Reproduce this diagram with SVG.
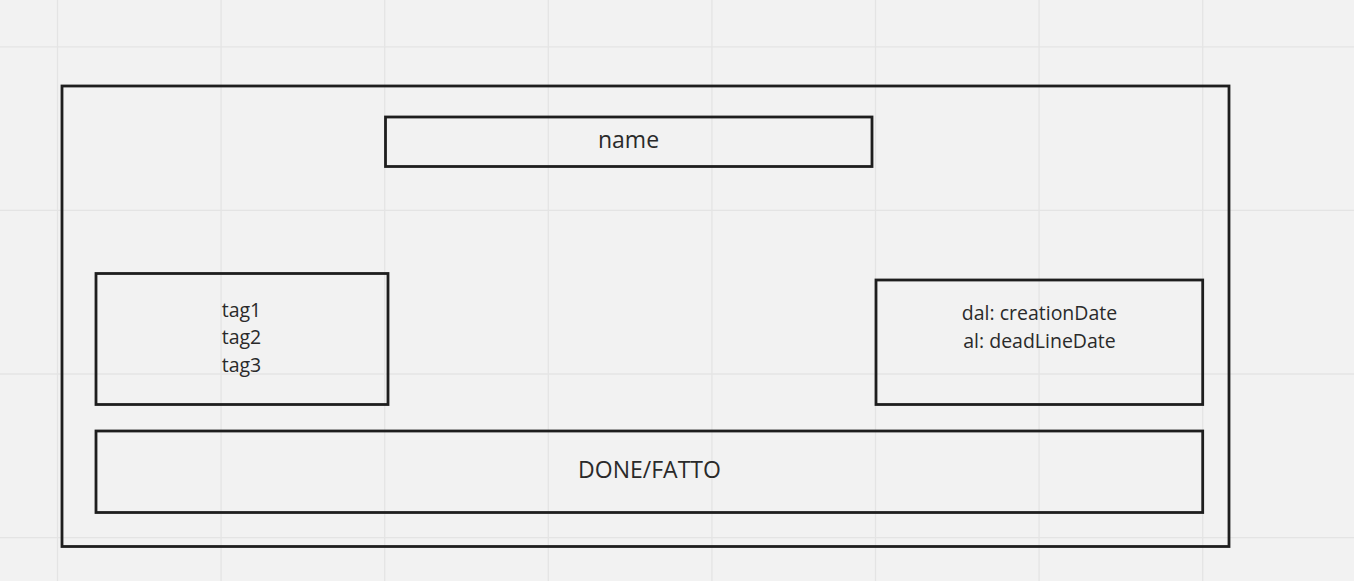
<svg xmlns="http://www.w3.org/2000/svg" width="1354" height="581" viewBox="0 0 1354 581">
<style>
.grid{stroke:#e4e4e4;stroke-width:1.3;fill:none}
.box{fill:none;stroke:#1e1e1e;stroke-width:2.8}
.lbl{font-family:"Open Sans","Noto Sans","Liberation Sans",sans-serif;fill:#2a2a2a;text-anchor:middle}
.big{font-size:23px}
.small{font-size:19.5px}
</style>
<rect x="0" y="0" width="1354" height="581" fill="#f2f2f2"/>
<g id="grid" class="grid">
<line x1="57.5" y1="0" x2="57.5" y2="581"/>
<line x1="221.1" y1="0" x2="221.1" y2="581"/>
<line x1="384.7" y1="0" x2="384.7" y2="581"/>
<line x1="548.3" y1="0" x2="548.3" y2="581"/>
<line x1="711.9" y1="0" x2="711.9" y2="581"/>
<line x1="875.5" y1="0" x2="875.5" y2="581"/>
<line x1="1039.1" y1="0" x2="1039.1" y2="581"/>
<line x1="1202.7" y1="0" x2="1202.7" y2="581"/>
<line x1="0" y1="46.8" x2="1354" y2="46.8"/>
<line x1="0" y1="210.4" x2="1354" y2="210.4"/>
<line x1="0" y1="374" x2="1354" y2="374"/>
<line x1="0" y1="537.6" x2="1354" y2="537.6"/>
</g>
<g id="card">
<rect class="box" x="62" y="86" width="1167" height="460.5"/>
</g>
<g id="name">
<rect class="box" x="385.5" y="117" width="486.5" height="49.5"/>
<text class="lbl big" x="628.5" y="148">name</text>
</g>
<g id="tags">
<rect class="box" x="96" y="273.5" width="292" height="131"/>
<text class="lbl small" x="241.5" y="316.5">tag1</text>
<text class="lbl small" x="241.5" y="344.2">tag2</text>
<text class="lbl small" x="241.5" y="371.9">tag3</text>
</g>
<g id="dates">
<rect class="box" x="876" y="280" width="326.7" height="124.5"/>
<text class="lbl small" x="1039.5" y="320">dal: creationDate</text>
<text class="lbl small" x="1039.5" y="347.7">al: deadLineDate</text>
</g>
<g id="done">
<rect class="box" x="96" y="431" width="1106.7" height="81.5"/>
<text class="lbl big" x="649.5" y="478.3">DONE/FATTO</text>
</g>
<g id="connectors"/>
</svg>
